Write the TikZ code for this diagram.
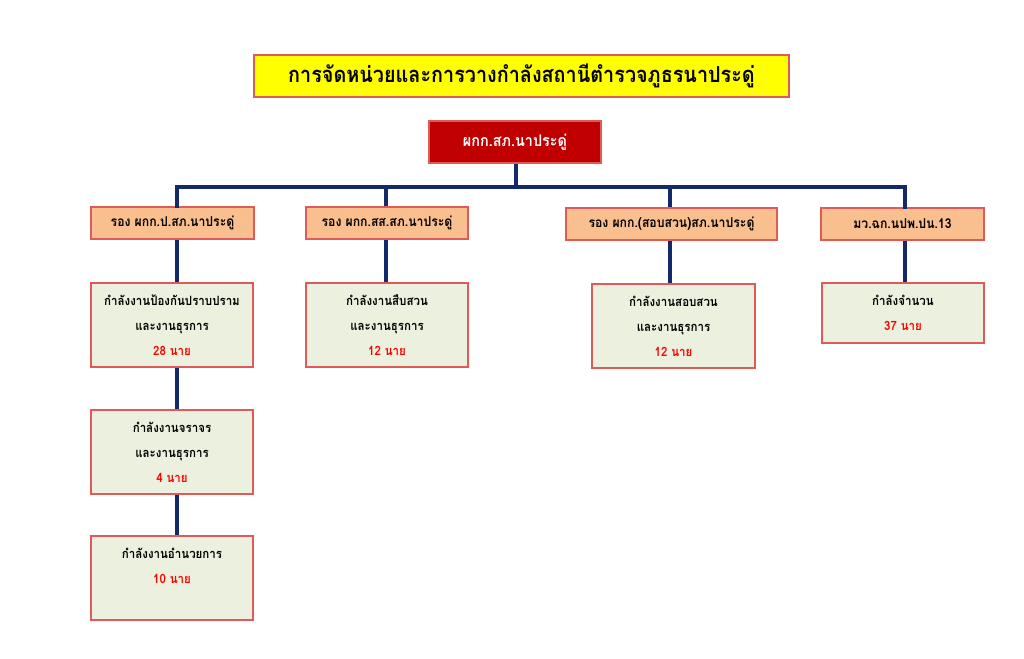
\documentclass[tikz,border=0pt]{standalone}
\usepackage{fontspec}
\newfontfamily\thai[Script=Thai,FakeStretch=0.9]{Loma}
\definecolor{titlefill}{HTML}{FFFF00}
\definecolor{boxborder}{HTML}{E05A5A}
\definecolor{topfill}{HTML}{C00000}
\definecolor{midfill}{HTML}{FABF8F}
\definecolor{lowfill}{HTML}{EBF1DE}
\definecolor{navy}{HTML}{14296B}
\definecolor{numred}{HTML}{FF0000}
\tikzset{
  base/.style={draw=boxborder, line width=0.9pt, inner sep=0pt, align=center, font=\thai\bfseries},
  titlebox/.style={base, fill=titlefill, minimum width=401.25pt, minimum height=31.5pt, font=\thai\bfseries\fontsize{16.5}{19}\selectfont},
  topbox/.style={base, fill=topfill, text=white, minimum width=129pt, minimum height=31.5pt, font=\thai\bfseries\fontsize{12}{14}\selectfont},
  midbox/.style={base, fill=midfill, minimum height=24pt, font=\thai\bfseries\fontsize{10.2}{12}\selectfont},
  lowbox/.style={base, fill=lowfill, minimum width=121.5pt, minimum height=63pt, font=\thai\bfseries\fontsize{9.6}{18.75}\selectfont},
  conn/.style={draw=navy, line width=3pt},
}
\newcommand{\num}[1]{\textcolor{numred}{#1}}
\begin{document}
\begin{tikzpicture}[x=0.75pt,y=-0.75pt]
\useasboundingbox (0,0) rectangle (1024,658);
\fill[white] (0,0) rectangle (1024,658);
% coordinates of the bus
\coordinate (d1) at (177,187);
\coordinate (d2) at (386,187);
\coordinate (dt) at (516,187);
\coordinate (d3) at (670,187);
\coordinate (d4) at (905,187);
% nodes
\node[titlebox] (title) at (521.5,76) {การจัดหน่วยและการวางกำลังสถานีตำรวจภูธรนาประดู่};
\node[topbox] (top) at (515,142) {ผกก.สภ.นาประดู่};
\node[midbox, minimum width=122.25pt] (a1) at (172.5,223) {รอง ผกก.ป.สภ.นาประดู่};
\node[midbox, minimum width=121.5pt] (a2) at (387,223) {รอง ผกก.สส.สภ.นาประดู่};
\node[midbox, minimum width=158.25pt] (a3) at (671.5,224) {รอง ผกก.(สอบสวน)สภ.นาประดู่};
\node[midbox, minimum width=122.25pt] (a4) at (902.5,224) {มว.ฉก.นปพ.ปน.13};
\node[lowbox] (b1) at (172,325) {กำลังงานป้องกันปราบปราม\\และงานธุรการ\\\num{28 นาย}};
\node[lowbox] (b2) at (387,325) {กำลังงานสืบสวน\\และงานธุรการ\\\num{12 นาย}};
\node[lowbox, minimum width=122.25pt] (b3) at (673.5,326) {กำลังงานสอบสวน\\และงานธุรการ\\\num{12 นาย}};
\node[lowbox, minimum height=45pt] (b4) at (903,313) {กำลังจำนวน\\\num{37 นาย}};
\node[lowbox] (c1) at (172,452) {กำลังงานจราจร\\และงานธุรการ\\\num{4 นาย}};
\node[lowbox] (c2) at (172,578) {กำลังงานอำนวยการ\\\num{10 นาย}\\~};
% connectors
\draw[conn] (top.south -| dt) -- (dt);
\draw[conn, line cap=rect] (d1 |- a1.north) -- (d1) -- (d4) -- (d4 |- a4.north);
\draw[conn] (d2) -- (d2 |- a2.north);
\draw[conn] (d3) -- (d3 |- a3.north);
\draw[conn] (a1.south -| d1) -- (b1.north -| d1);
\draw[conn] (b1.south -| d1) -- (c1.north -| d1);
\draw[conn] (c1.south -| d1) -- (c2.north -| d1);
\draw[conn] (a2.south -| d2) -- (b2.north -| d2);
\draw[conn] (a3.south -| d3) -- (b3.north -| d3);
\draw[conn] (a4.south -| d4) -- (b4.north -| d4);
\end{tikzpicture}
\end{document}
